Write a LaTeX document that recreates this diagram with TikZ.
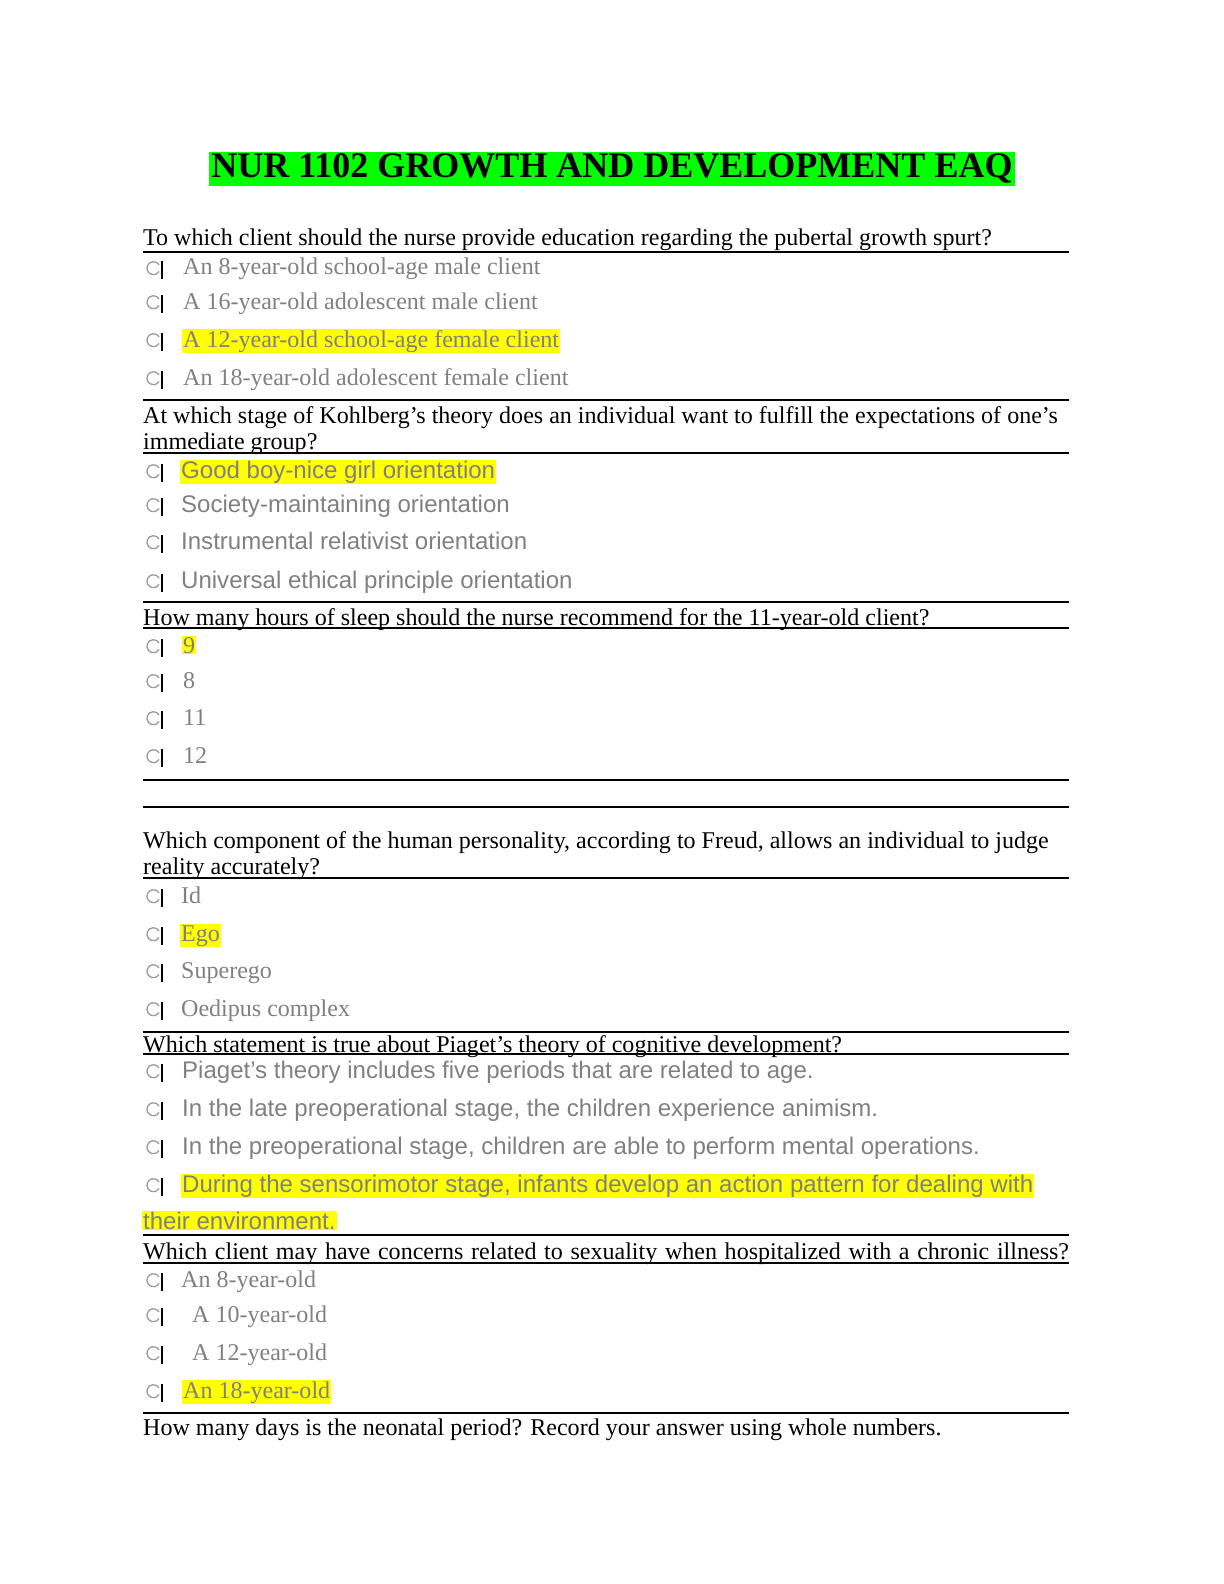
\documentclass[tikz,border=0pt]{standalone}
\usepackage{fontspec}
\setmainfont{Liberation Serif}
\setsansfont{Liberation Sans}
\definecolor{hlyellow}{RGB}{255,255,0}
\definecolor{hlgreen}{RGB}{0,255,0}
\definecolor{anstext}{RGB}{128,128,128}
\tikzset{
  qtext/.style={anchor=base west, inner sep=0pt, font=\fontsize{24.3}{28}\selectfont},
  atext/.style={anchor=base west, inner sep=1pt, text=anstext, font=\fontsize{24.3}{28}\selectfont},
  asans/.style={atext, font=\sffamily\fontsize{24.3}{28}\selectfont},
  hl/.style={fill=hlyellow},
  rule/.style={line width=1.2pt},
}
% radio icon at baseline y
\newcommand{\radio}[1]{%
  \draw[gray!80, line width=1.3pt] (159,#1-10) arc (30:330:6.5pt);%
  \draw[line width=1.6pt] (162,#1-14) -- (162,#1+4);}
\begin{document}
\begin{tikzpicture}[x=1.011pt,y=-1.011pt]
\node[anchor=base, fill=hlgreen, inner sep=2pt, font=\bfseries\fontsize{36.4}{40}\selectfont] (title) at (612,178) {NUR 1102 GROWTH AND DEVELOPMENT EAQ};
% question 1
\node[qtext] (q1) at (143,246) {To which client should the nurse provide education regarding the pubertal growth spurt?};
\draw[rule] (143,252) -- (1069,252);
\foreach \y/\t/\s in {275/An 8-year-old school-age male client/,309/A 16-year-old adolescent male client/,347/A 12-year-old school-age female client/hl,385/An 18-year-old adolescent female client/}{
  \radio{\y}
  \node[atext,\s] at (182,\y) {\t};}
\draw[rule] (143,400) -- (1069,400);
% question 2
\node[qtext] (q2a) at (143,423) {At which stage of Kohlberg’s theory does an individual want to fulfill the expectations of one’s};
\node[qtext] (q2b) at (143,449) {immediate group?};
\draw[rule] (143,453) -- (1069,453);
\foreach \y/\t/\s in {478/Good boy-nice girl orientation/hl,512/Society-maintaining orientation/,549/Instrumental relativist orientation/,588/Universal ethical principle orientation/}{
  \radio{\y}
  \node[asans,\s] at (180,\y) {\t};}
\draw[rule] (143,602) -- (1069,602);
% question 3
\node[qtext] (q3) at (143,625) {How many hours of sleep should the nurse recommend for the 11-year-old client?};
\draw[rule] (143,628) -- (1069,628);
\foreach \y/\t/\s in {653/9/hl,688/8/,725/11/,763/12/}{
  \radio{\y}
  \node[atext,\s] at (182,\y) {\t};}
\draw[rule] (143,780) -- (1069,780);
\draw[rule] (143,807) -- (1069,807);
% question 4
\node[qtext] (q4a) at (143,848) {Which component of the human personality, according to Freud, allows an individual to judge};
\node[qtext] (q4b) at (143,874) {reality accurately?};
\draw[rule] (143,878) -- (1069,878);
\foreach \y/\t/\s in {903/Id/,941/Ego/hl,978/Superego/,1016/Oedipus complex/}{
  \radio{\y}
  \node[atext,\s] at (180,\y) {\t};}
\draw[rule] (143,1032) -- (1069,1032);
% question 5
\node[qtext] (q5) at (143,1052) {Which statement is true about Piaget’s theory of cognitive development?};
\draw[rule] (143,1054) -- (1069,1054);
\foreach \y/\t in {1078/Piaget’s theory includes five periods that are related to age.,1116/In the late preoperational stage{,} the children experience animism.,1154/In the preoperational stage{,} children are able to perform mental operations.}{
  \radio{\y}
  \node[asans] at (181,\y) {\t};}
\radio{1192}
\node[asans,hl] (a5a) at (181,1192) {During the sensorimotor stage, infants develop an action pattern for dealing with};
\node[asans,hl] (a5b) at (142,1229) {their environment.};
\draw[rule] (143,1235) -- (1069,1235);
% question 6
\node[qtext] (q6) at (143,1259) {\makebox[936pt][s]{Which client may have concerns related to sexuality when hospitalized with a chronic illness?}};
\draw[rule] (143,1263) -- (1069,1263);
\foreach \y/\t/\s/\x in {1287/An 8-year-old//180,1322/A 10-year-old//191,1360/A 12-year-old//191,1398/An 18-year-old/hl/182}{
  \radio{\y}
  \node[atext,\s] at (\x,\y) {\t};}
\draw[line width=2.4pt] (143,1413) -- (1069,1413);
% question 7
\node[qtext] (q7) at (143,1435) {How many days is the neonatal period? Record your answer using whole numbers.};
\pgfresetboundingbox
\useasboundingbox (0,0) rectangle (1224,1584);
\end{tikzpicture}
\end{document}
